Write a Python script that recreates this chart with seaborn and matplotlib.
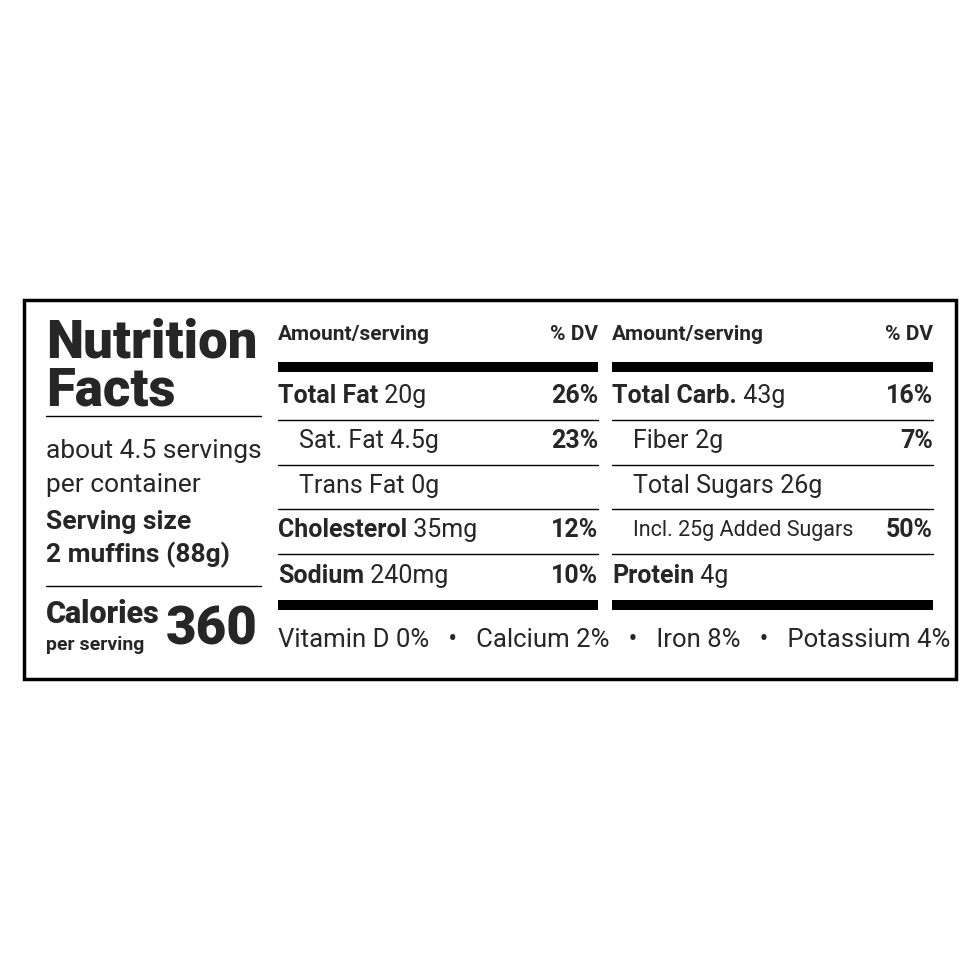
import matplotlib
matplotlib.use("Agg")
import matplotlib.pyplot as plt
import seaborn as sns

sns.set_theme(style="white")
FAM = ["Liberation Sans Narrow", "Roboto", "DejaVu Sans"]
plt.rcParams['font.family'] = FAM

servings_lines = ["about 4.5 servings", "per container"]
serving_size = ["Serving size", "2 muffins (88g)"]
calories = "360"
left_names = ["Total Fat", "Sat. Fat", "Trans Fat", "Cholesterol", "Sodium"]
left_amts = ["20g", "4.5g", "0g", "35mg", "240mg"]
left_dv = ["26%", "23%", "", "12%", "10%"]
left_bold = [True, False, False, True, True]
left_indent = [0, 1, 1, 0, 0]
right_names = ["Total Carb.", "Fiber", "Total Sugars", "Incl. 25g Added Sugars", "Protein"]
right_amts = ["43g", "2g", "26g", "", "4g"]
right_dv = ["16%", "7%", "", "50%", ""]
right_bold = [True, False, False, False, True]
right_indent = [0, 1, 1, 2, 0]
vitamins = "Vitamin D 0%   •   Calcium 2%   •   Iron 8%   •   Potassium 4%"

fig = plt.figure(figsize=(9.8, 9.8), dpi=100)
ax = fig.add_axes([0, 0, 1, 1])
ax.set_xlim(0, 980); ax.set_ylim(980, 0); ax.axis("off")

ax.add_patch(plt.Rectangle((24, 300), 932, 379, fill=False, lw=2.5, ec="black"))

ax.text(46, 343, "Nutrition", fontsize=38, fontweight="heavy", va="center")
ax.text(46, 391, "Facts", fontsize=38, fontweight="heavy", va="center")
ax.plot([46, 261], [416, 416], color="black", lw=1)
for i, s in enumerate(servings_lines):
    ax.text(46, 451 + 34 * i, s, fontsize=19, va="center")
for i, s in enumerate(serving_size):
    ax.text(46, 522 + 33 * i, s, fontsize=19, fontweight="bold", va="center")
ax.plot([46, 261], [586, 586], color="black", lw=1)
ax.text(46, 614, "Calories", fontsize=22, fontweight="heavy", va="center")
ax.text(46, 645, "per serving", fontsize=14, fontweight="bold", va="center")
ax.text(258, 630, calories, fontsize=38, fontweight="heavy", va="center", ha="right")

def column(x0, x1, names, amts, dv, bold, indent):
    ax.text(x0, 334, "Amount/serving", fontsize=15, fontweight="bold", va="center")
    ax.text(x1, 334, "% DV", fontsize=15, fontweight="bold", va="center", ha="right")
    ax.add_patch(plt.Rectangle((x0, 362), x1 - x0, 10, color="black", lw=0))
    ax.add_patch(plt.Rectangle((x0, 600), x1 - x0, 10, color="black", lw=0))
    ys = [396, 441, 486, 530, 576]
    for i, y in enumerate(ys):
        xi = x0 + [0, 21, 21, 38][indent[i]]
        fs = 15.5 if indent[i] == 2 else 18
        t = ax.text(xi, y, names[i], fontsize=fs, va="center",
                    fontweight="bold" if bold[i] else "normal")
        if amts[i]:
            fig.canvas.draw()
            bb = t.get_window_extent()
            ax.annotate(" " + amts[i], xy=(bb.x1, 980 - y), xycoords="figure pixels",
                        fontsize=18, va="center")
        if dv[i]:
            ax.text(x1, y, dv[i], fontsize=18, fontweight="bold", va="center", ha="right")
        if i < 4:
            ax.plot([x0, x1], [(ys[i] + ys[i + 1]) / 2 + 1] * 2, color="black", lw=1)

column(278, 598, left_names, left_amts, left_dv, left_bold, left_indent)
column(612, 933, right_names, right_amts, right_dv, right_bold, right_indent)
ax.text(278, 640, vitamins, fontsize=18.5, va="center")

fig.savefig("out.png", dpi=100)
